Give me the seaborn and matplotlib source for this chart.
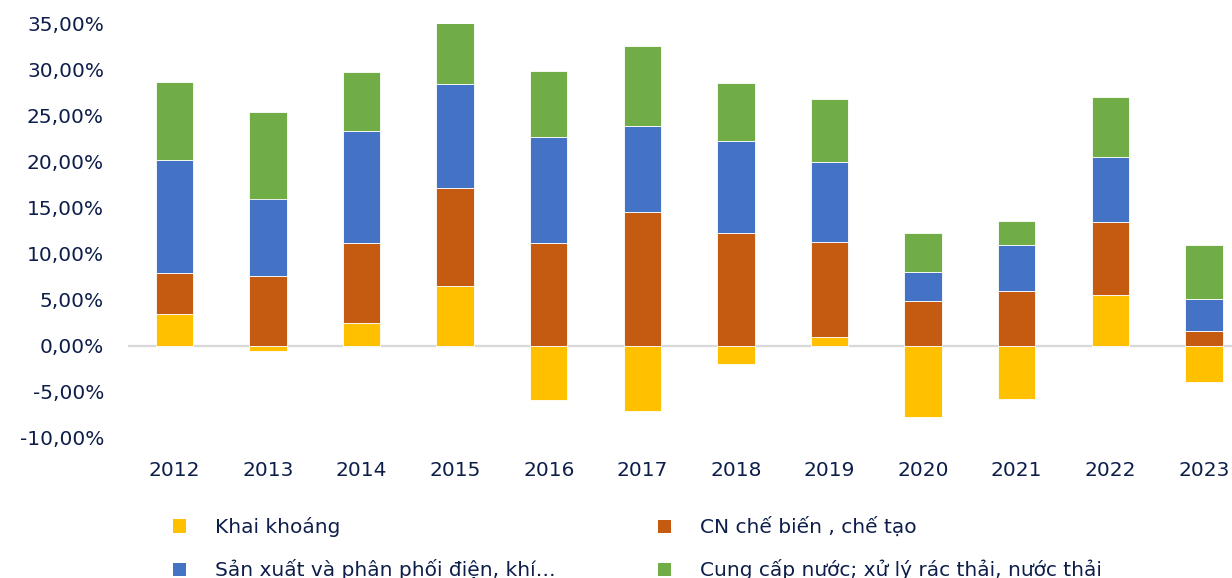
import numpy as np
import pandas as pd
import matplotlib
matplotlib.use("Agg")
import matplotlib.pyplot as plt
from matplotlib.patches import Patch
from matplotlib.ticker import FuncFormatter, MultipleLocator
import seaborn as sns

years = ["2012", "2013", "2014", "2015", "2016", "2017", "2018", "2019", "2020", "2021", "2022", "2023"]
khai_khoang = [3.5, -0.6, 2.5, 6.5, -5.9, -7.1, -2.0, 0.9, -7.8, -5.8, 5.5, -3.9]
cn_che_bien = [4.4, 7.6, 8.7, 10.6, 11.2, 14.5, 12.3, 10.4, 4.9, 6.0, 8.0, 1.6]
san_xuat_dien = [12.3, 8.4, 12.1, 11.4, 11.5, 9.4, 10.0, 8.7, 3.1, 4.9, 7.0, 3.5]
cung_cap_nuoc = [8.5, 9.4, 6.5, 7.4, 7.2, 8.7, 6.3, 6.8, 4.3, 2.7, 6.5, 5.8]

labels = ["Khai khoáng", "CN chế biến , chế tạo",
          "Sản xuất và phân phối điện, khí…", "Cung cấp nước; xử lý rác thải, nước thải"]
colors = ["#FFC000", "#C55A11", "#4472C4", "#70AD47"]
text_color = "#0E1E4A"

sns.set_theme(style="white")
plt.rcParams["font.family"] = ["DejaVu Sans"]

fig = plt.figure(figsize=(12.32, 5.78), dpi=100)
ax = fig.add_axes([127.6 / 1232, 1 - 437.7 / 578, 1 - 127.6 / 1232, (437.7 - 23.7) / 578])

k = np.array(khai_khoang)
c = np.array(cn_che_bien)
s = np.array(san_xuat_dien)
w = np.array(cung_cap_nuoc)

bottoms = [np.zeros_like(k), np.maximum(k, 0), np.maximum(k, 0) + c, np.maximum(k, 0) + c + s]
series = [k, c, s, w]

for vals, bot, col in zip(series, bottoms, colors):
    df = pd.DataFrame({"year": years, "value": vals})
    sns.barplot(data=df, x="year", y="value", bottom=bot, color=col, width=0.4,
                saturation=1, edgecolor="white", linewidth=0.6, ax=ax, errorbar=None)

ax.axhline(0, color="#D9D9D9", linewidth=1.6, zorder=0.5)
ax.set_ylim(-10, 35)
ax.set_xlim(-0.5, 11.3)
ax.yaxis.set_major_locator(MultipleLocator(5))
ax.yaxis.set_major_formatter(FuncFormatter(lambda v, p: f"{v:.2f}".replace(".", ",").replace("-0,00", "0,00") + "%"))
ax.set_xlabel("")
ax.set_ylabel("")
for sp in ax.spines.values():
    sp.set_visible(False)
ax.grid(False)
ax.tick_params(axis="y", length=0, pad=17, labelsize=14.5, labelcolor=text_color)
ax.tick_params(axis="x", length=0, pad=17, labelsize=14.5, labelcolor=text_color)

handles = [Patch(facecolor=col, edgecolor="none") for col in colors]
leg_kw = dict(frameon=False, fontsize=14.5, handlelength=0.62, handleheight=0.62,
              handletextpad=1.45, labelspacing=1.1, borderpad=0, loc="upper left",
              bbox_transform=fig.transFigure, labelcolor=text_color)
leg1 = fig.legend([handles[0], handles[2]], [labels[0], labels[2]],
                  bbox_to_anchor=(163 / 1232, 1 - 507 / 578), **leg_kw)
leg2 = fig.legend([handles[1], handles[3]], [labels[1], labels[3]],
                  bbox_to_anchor=(648 / 1232, 1 - 507 / 578), **leg_kw)

fig.savefig("out.png", dpi=100)
